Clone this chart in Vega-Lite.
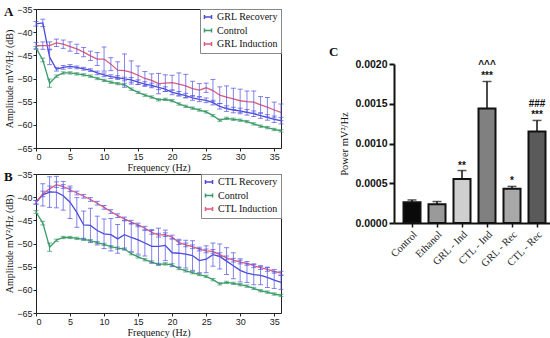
{
"$schema":"https://vega.github.io/schema/vega-lite/v6.json",
"padding":{"left":3,"top":4,"right":2,"bottom":2},
"spacing":44,
"config":{"font":"Liberation Sans","view":{"stroke":null},"axis":{"grid":false,"labelColor":"#222","titleColor":"#111"},"legend":{"orient":"top-right","offset":0,"strokeColor":"#888","fillColor":"#ffffff","padding":3,"labelFont":"Liberation Serif","labelFontSize":10,"labelColor":"#111","symbolType":"M-1,-0.6L-1,0.6M-1,0L1,0M1,-0.6L1,0.6","symbolSize":50,"symbolStrokeWidth":1.5,"rowPadding":1.5,"labelOffset":4}},
"datasets":{
"curves":[
{"p":"A","s":"GRL Recovery","f":0,"v":-38.2,"e":0.5},{"p":"A","s":"GRL Recovery","f":1,"v":-38.0,"e":0.8},{"p":"A","s":"GRL Recovery","f":2,"v":-45.4,"e":1.6},{"p":"A","s":"GRL Recovery","f":3,"v":-48.0,"e":0.4},{"p":"A","s":"GRL Recovery","f":4,"v":-47.6,"e":0.4},{"p":"A","s":"GRL Recovery","f":5,"v":-47.4,"e":0.4},{"p":"A","s":"GRL Recovery","f":6,"v":-47.6,"e":0.3},{"p":"A","s":"GRL Recovery","f":7,"v":-47.9,"e":0.3},{"p":"A","s":"GRL Recovery","f":8,"v":-48.2,"e":0.3},{"p":"A","s":"GRL Recovery","f":9,"v":-48.8,"e":0.4},{"p":"A","s":"GRL Recovery","f":10,"v":-49.2,"e":0.4},{"p":"A","s":"GRL Recovery","f":11,"v":-49.6,"e":0.4},{"p":"A","s":"GRL Recovery","f":12,"v":-49.8,"e":0.4},{"p":"A","s":"GRL Recovery","f":13,"v":-50.1,"e":0.4},{"p":"A","s":"GRL Recovery","f":14,"v":-50.3,"e":0.5},{"p":"A","s":"GRL Recovery","f":15,"v":-50.8,"e":0.5},{"p":"A","s":"GRL Recovery","f":16,"v":-51.2,"e":0.5},{"p":"A","s":"GRL Recovery","f":17,"v":-51.5,"e":0.5},{"p":"A","s":"GRL Recovery","f":18,"v":-51.9,"e":0.5},{"p":"A","s":"GRL Recovery","f":19,"v":-52.3,"e":0.5},{"p":"A","s":"GRL Recovery","f":20,"v":-53.0,"e":0.5},{"p":"A","s":"GRL Recovery","f":21,"v":-53.3,"e":0.5},{"p":"A","s":"GRL Recovery","f":22,"v":-53.7,"e":0.5},{"p":"A","s":"GRL Recovery","f":23,"v":-54.2,"e":0.5},{"p":"A","s":"GRL Recovery","f":24,"v":-54.5,"e":0.5},{"p":"A","s":"GRL Recovery","f":25,"v":-54.7,"e":0.5},{"p":"A","s":"GRL Recovery","f":26,"v":-55.2,"e":0.5},{"p":"A","s":"GRL Recovery","f":27,"v":-56.0,"e":0.6},{"p":"A","s":"GRL Recovery","f":28,"v":-56.5,"e":0.6},{"p":"A","s":"GRL Recovery","f":29,"v":-56.8,"e":0.6},{"p":"A","s":"GRL Recovery","f":30,"v":-57.0,"e":0.6},{"p":"A","s":"GRL Recovery","f":31,"v":-57.3,"e":0.6},{"p":"A","s":"GRL Recovery","f":32,"v":-57.6,"e":0.6},{"p":"A","s":"GRL Recovery","f":33,"v":-58.0,"e":0.6},{"p":"A","s":"GRL Recovery","f":34,"v":-58.4,"e":0.6},{"p":"A","s":"GRL Recovery","f":35,"v":-58.8,"e":0.7},{"p":"A","s":"GRL Recovery","f":36,"v":-59.1,"e":0.7},
{"p":"A","s":"GRL Induction","f":0,"v":-42.9,"e":0.7},{"p":"A","s":"GRL Induction","f":1,"v":-42.9,"e":0.8},{"p":"A","s":"GRL Induction","f":2,"v":-42.9,"e":0.8},{"p":"A","s":"GRL Induction","f":3,"v":-42.3,"e":0.8},{"p":"A","s":"GRL Induction","f":4,"v":-42.6,"e":0.9},{"p":"A","s":"GRL Induction","f":5,"v":-43.1,"e":1.0},{"p":"A","s":"GRL Induction","f":6,"v":-43.6,"e":1.0},{"p":"A","s":"GRL Induction","f":7,"v":-44.3,"e":1.0},{"p":"A","s":"GRL Induction","f":8,"v":-45.1,"e":1.0},{"p":"A","s":"GRL Induction","f":9,"v":-45.8,"e":1.4},{"p":"A","s":"GRL Induction","f":10,"v":-45.8,"e":2.6},{"p":"A","s":"GRL Induction","f":11,"v":-46.9,"e":1.4},{"p":"A","s":"GRL Induction","f":12,"v":-48.2,"e":1.8},{"p":"A","s":"GRL Induction","f":13,"v":-48.3,"e":3.6},{"p":"A","s":"GRL Induction","f":14,"v":-48.7,"e":2.5},{"p":"A","s":"GRL Induction","f":15,"v":-49.3,"e":2.0},{"p":"A","s":"GRL Induction","f":16,"v":-50.0,"e":1.5},{"p":"A","s":"GRL Induction","f":17,"v":-50.4,"e":1.4},{"p":"A","s":"GRL Induction","f":18,"v":-51.1,"e":2.2},{"p":"A","s":"GRL Induction","f":19,"v":-51.0,"e":1.8},{"p":"A","s":"GRL Induction","f":20,"v":-50.9,"e":1.6},{"p":"A","s":"GRL Induction","f":21,"v":-51.2,"e":2.4},{"p":"A","s":"GRL Induction","f":22,"v":-51.6,"e":2.5},{"p":"A","s":"GRL Induction","f":23,"v":-52.2,"e":1.6},{"p":"A","s":"GRL Induction","f":24,"v":-52.5,"e":1.4},{"p":"A","s":"GRL Induction","f":25,"v":-52.0,"e":1.0},{"p":"A","s":"GRL Induction","f":26,"v":-52.6,"e":2.4},{"p":"A","s":"GRL Induction","f":27,"v":-53.6,"e":1.8},{"p":"A","s":"GRL Induction","f":28,"v":-54.0,"e":2.4},{"p":"A","s":"GRL Induction","f":29,"v":-54.4,"e":2.3},{"p":"A","s":"GRL Induction","f":30,"v":-54.8,"e":2.5},{"p":"A","s":"GRL Induction","f":31,"v":-55.0,"e":2.3},{"p":"A","s":"GRL Induction","f":32,"v":-55.1,"e":2.4},{"p":"A","s":"GRL Induction","f":33,"v":-55.7,"e":1.8},{"p":"A","s":"GRL Induction","f":34,"v":-56.2,"e":2.1},{"p":"A","s":"GRL Induction","f":35,"v":-56.8,"e":1.7},{"p":"A","s":"GRL Induction","f":36,"v":-57.3,"e":1.8},
{"p":"A","s":"Control","f":0,"v":-43.4,"e":0.3},{"p":"A","s":"Control","f":1,"v":-46.0,"e":0.4},{"p":"A","s":"Control","f":2,"v":-51.0,"e":0.9},{"p":"A","s":"Control","f":3,"v":-49.5,"e":0.25},{"p":"A","s":"Control","f":4,"v":-48.8,"e":0.25},{"p":"A","s":"Control","f":5,"v":-48.8,"e":0.25},{"p":"A","s":"Control","f":6,"v":-49.0,"e":0.25},{"p":"A","s":"Control","f":7,"v":-49.2,"e":0.25},{"p":"A","s":"Control","f":8,"v":-49.5,"e":0.25},{"p":"A","s":"Control","f":9,"v":-50.0,"e":0.25},{"p":"A","s":"Control","f":10,"v":-50.4,"e":0.25},{"p":"A","s":"Control","f":11,"v":-50.8,"e":0.25},{"p":"A","s":"Control","f":12,"v":-51.1,"e":0.25},{"p":"A","s":"Control","f":13,"v":-51.3,"e":0.25},{"p":"A","s":"Control","f":14,"v":-52.3,"e":0.25},{"p":"A","s":"Control","f":15,"v":-53.0,"e":0.25},{"p":"A","s":"Control","f":16,"v":-53.6,"e":0.25},{"p":"A","s":"Control","f":17,"v":-54.0,"e":0.25},{"p":"A","s":"Control","f":18,"v":-54.6,"e":0.25},{"p":"A","s":"Control","f":19,"v":-54.5,"e":0.25},{"p":"A","s":"Control","f":20,"v":-54.8,"e":0.25},{"p":"A","s":"Control","f":21,"v":-55.5,"e":0.25},{"p":"A","s":"Control","f":22,"v":-56.0,"e":0.25},{"p":"A","s":"Control","f":23,"v":-56.4,"e":0.25},{"p":"A","s":"Control","f":24,"v":-56.8,"e":0.25},{"p":"A","s":"Control","f":25,"v":-57.2,"e":0.25},{"p":"A","s":"Control","f":26,"v":-58.0,"e":0.25},{"p":"A","s":"Control","f":27,"v":-59.0,"e":0.25},{"p":"A","s":"Control","f":28,"v":-58.6,"e":0.25},{"p":"A","s":"Control","f":29,"v":-58.8,"e":0.25},{"p":"A","s":"Control","f":30,"v":-59.0,"e":0.25},{"p":"A","s":"Control","f":31,"v":-59.3,"e":0.25},{"p":"A","s":"Control","f":32,"v":-59.8,"e":0.25},{"p":"A","s":"Control","f":33,"v":-60.3,"e":0.25},{"p":"A","s":"Control","f":34,"v":-60.6,"e":0.25},{"p":"A","s":"Control","f":35,"v":-61.0,"e":0.25},{"p":"A","s":"Control","f":36,"v":-61.3,"e":0.25},
{"p":"B","s":"CTL Recovery","f":0,"v":-41.1,"e":0.4},{"p":"B","s":"CTL Recovery","f":1,"v":-39.5,"e":2.4},{"p":"B","s":"CTL Recovery","f":2,"v":-38.9,"e":3.3},{"p":"B","s":"CTL Recovery","f":3,"v":-38.9,"e":3.4},{"p":"B","s":"CTL Recovery","f":4,"v":-39.7,"e":3.1},{"p":"B","s":"CTL Recovery","f":5,"v":-41.1,"e":3.5},{"p":"B","s":"CTL Recovery","f":6,"v":-43.3,"e":3.2},{"p":"B","s":"CTL Recovery","f":7,"v":-46.0,"e":3.0},{"p":"B","s":"CTL Recovery","f":8,"v":-46.1,"e":3.7},{"p":"B","s":"CTL Recovery","f":9,"v":-47.2,"e":3.1},{"p":"B","s":"CTL Recovery","f":10,"v":-47.9,"e":3.2},{"p":"B","s":"CTL Recovery","f":11,"v":-48.1,"e":3.5},{"p":"B","s":"CTL Recovery","f":12,"v":-49.0,"e":3.1},{"p":"B","s":"CTL Recovery","f":13,"v":-48.1,"e":3.1},{"p":"B","s":"CTL Recovery","f":14,"v":-48.7,"e":3.0},{"p":"B","s":"CTL Recovery","f":15,"v":-49.2,"e":3.1},{"p":"B","s":"CTL Recovery","f":16,"v":-49.9,"e":2.8},{"p":"B","s":"CTL Recovery","f":17,"v":-50.6,"e":3.6},{"p":"B","s":"CTL Recovery","f":18,"v":-50.6,"e":3.9},{"p":"B","s":"CTL Recovery","f":19,"v":-50.4,"e":3.3},{"p":"B","s":"CTL Recovery","f":20,"v":-52.0,"e":3.0},{"p":"B","s":"CTL Recovery","f":21,"v":-52.1,"e":3.0},{"p":"B","s":"CTL Recovery","f":22,"v":-52.3,"e":3.0},{"p":"B","s":"CTL Recovery","f":23,"v":-52.6,"e":3.2},{"p":"B","s":"CTL Recovery","f":24,"v":-53.7,"e":2.6},{"p":"B","s":"CTL Recovery","f":25,"v":-53.4,"e":2.9},{"p":"B","s":"CTL Recovery","f":26,"v":-52.4,"e":2.5},{"p":"B","s":"CTL Recovery","f":27,"v":-52.8,"e":2.7},{"p":"B","s":"CTL Recovery","f":28,"v":-53.8,"e":2.9},{"p":"B","s":"CTL Recovery","f":29,"v":-54.8,"e":2.8},{"p":"B","s":"CTL Recovery","f":30,"v":-55.8,"e":2.5},{"p":"B","s":"CTL Recovery","f":31,"v":-56.4,"e":2.0},{"p":"B","s":"CTL Recovery","f":32,"v":-56.7,"e":2.2},{"p":"B","s":"CTL Recovery","f":33,"v":-56.9,"e":2.0},{"p":"B","s":"CTL Recovery","f":34,"v":-57.3,"e":2.2},{"p":"B","s":"CTL Recovery","f":35,"v":-57.9,"e":1.8},{"p":"B","s":"CTL Recovery","f":36,"v":-58.4,"e":1.5},
{"p":"B","s":"CTL Induction","f":0,"v":-41.1,"e":0.4},{"p":"B","s":"CTL Induction","f":1,"v":-39.3,"e":0.6},{"p":"B","s":"CTL Induction","f":2,"v":-38.2,"e":0.6},{"p":"B","s":"CTL Induction","f":3,"v":-37.3,"e":0.6},{"p":"B","s":"CTL Induction","f":4,"v":-37.7,"e":0.4},{"p":"B","s":"CTL Induction","f":5,"v":-38.4,"e":0.4},{"p":"B","s":"CTL Induction","f":6,"v":-39.1,"e":0.4},{"p":"B","s":"CTL Induction","f":7,"v":-39.8,"e":0.4},{"p":"B","s":"CTL Induction","f":8,"v":-40.5,"e":0.4},{"p":"B","s":"CTL Induction","f":9,"v":-41.3,"e":0.4},{"p":"B","s":"CTL Induction","f":10,"v":-42.2,"e":0.4},{"p":"B","s":"CTL Induction","f":11,"v":-43.1,"e":0.4},{"p":"B","s":"CTL Induction","f":12,"v":-44.0,"e":0.4},{"p":"B","s":"CTL Induction","f":13,"v":-44.7,"e":0.4},{"p":"B","s":"CTL Induction","f":14,"v":-45.4,"e":0.4},{"p":"B","s":"CTL Induction","f":15,"v":-46.0,"e":0.4},{"p":"B","s":"CTL Induction","f":16,"v":-46.7,"e":0.4},{"p":"B","s":"CTL Induction","f":17,"v":-47.6,"e":0.4},{"p":"B","s":"CTL Induction","f":18,"v":-48.2,"e":0.4},{"p":"B","s":"CTL Induction","f":19,"v":-48.1,"e":0.4},{"p":"B","s":"CTL Induction","f":20,"v":-48.6,"e":0.4},{"p":"B","s":"CTL Induction","f":21,"v":-49.8,"e":0.4},{"p":"B","s":"CTL Induction","f":22,"v":-50.3,"e":0.4},{"p":"B","s":"CTL Induction","f":23,"v":-50.7,"e":0.4},{"p":"B","s":"CTL Induction","f":24,"v":-51.2,"e":0.4},{"p":"B","s":"CTL Induction","f":25,"v":-51.6,"e":0.4},{"p":"B","s":"CTL Induction","f":26,"v":-51.7,"e":0.4},{"p":"B","s":"CTL Induction","f":27,"v":-52.4,"e":0.4},{"p":"B","s":"CTL Induction","f":28,"v":-53.1,"e":0.4},{"p":"B","s":"CTL Induction","f":29,"v":-53.6,"e":0.4},{"p":"B","s":"CTL Induction","f":30,"v":-54.0,"e":0.4},{"p":"B","s":"CTL Induction","f":31,"v":-54.3,"e":0.4},{"p":"B","s":"CTL Induction","f":32,"v":-54.8,"e":0.4},{"p":"B","s":"CTL Induction","f":33,"v":-55.2,"e":0.4},{"p":"B","s":"CTL Induction","f":34,"v":-55.6,"e":0.4},{"p":"B","s":"CTL Induction","f":35,"v":-56.0,"e":0.4},{"p":"B","s":"CTL Induction","f":36,"v":-56.4,"e":0.4},
{"p":"B","s":"Control","f":0,"v":-43.2,"e":0.3},{"p":"B","s":"Control","f":1,"v":-45.6,"e":0.4},{"p":"B","s":"Control","f":2,"v":-50.8,"e":0.9},{"p":"B","s":"Control","f":3,"v":-49.3,"e":0.25},{"p":"B","s":"Control","f":4,"v":-48.7,"e":0.25},{"p":"B","s":"Control","f":5,"v":-48.7,"e":0.25},{"p":"B","s":"Control","f":6,"v":-48.9,"e":0.25},{"p":"B","s":"Control","f":7,"v":-49.1,"e":0.25},{"p":"B","s":"Control","f":8,"v":-49.4,"e":0.25},{"p":"B","s":"Control","f":9,"v":-49.8,"e":0.25},{"p":"B","s":"Control","f":10,"v":-50.2,"e":0.25},{"p":"B","s":"Control","f":11,"v":-50.7,"e":0.25},{"p":"B","s":"Control","f":12,"v":-51.0,"e":0.25},{"p":"B","s":"Control","f":13,"v":-51.2,"e":0.25},{"p":"B","s":"Control","f":14,"v":-52.2,"e":0.25},{"p":"B","s":"Control","f":15,"v":-52.9,"e":0.25},{"p":"B","s":"Control","f":16,"v":-53.5,"e":0.25},{"p":"B","s":"Control","f":17,"v":-54.0,"e":0.25},{"p":"B","s":"Control","f":18,"v":-54.5,"e":0.25},{"p":"B","s":"Control","f":19,"v":-54.4,"e":0.25},{"p":"B","s":"Control","f":20,"v":-54.6,"e":0.25},{"p":"B","s":"Control","f":21,"v":-55.4,"e":0.25},{"p":"B","s":"Control","f":22,"v":-55.9,"e":0.25},{"p":"B","s":"Control","f":23,"v":-56.3,"e":0.25},{"p":"B","s":"Control","f":24,"v":-56.7,"e":0.25},{"p":"B","s":"Control","f":25,"v":-57.1,"e":0.25},{"p":"B","s":"Control","f":26,"v":-57.8,"e":0.25},{"p":"B","s":"Control","f":27,"v":-58.7,"e":0.25},{"p":"B","s":"Control","f":28,"v":-58.4,"e":0.25},{"p":"B","s":"Control","f":29,"v":-58.6,"e":0.25},{"p":"B","s":"Control","f":30,"v":-58.9,"e":0.25},{"p":"B","s":"Control","f":31,"v":-59.2,"e":0.25},{"p":"B","s":"Control","f":32,"v":-59.7,"e":0.25},{"p":"B","s":"Control","f":33,"v":-60.2,"e":0.25},{"p":"B","s":"Control","f":34,"v":-60.5,"e":0.25},{"p":"B","s":"Control","f":35,"v":-60.9,"e":0.25},{"p":"B","s":"Control","f":36,"v":-61.2,"e":0.25}
],
"bars":[
{"g":"Control","v":0.00026,"hi":0.00029,"sig":"","sig2":""},
{"g":"Ethanol","v":0.000235,"hi":0.00027,"sig":"","sig2":""},
{"g":"GRL - Ind","v":0.000555,"hi":0.00066,"sig":"**","sig2":""},
{"g":"CTL - Ind","v":0.00144,"hi":0.00178,"sig":"***","sig2":"^^^"},
{"g":"GRL - Rec","v":0.00043,"hi":0.00046,"sig":"*","sig2":""},
{"g":"CTL - Rec","v":0.00115,"hi":0.00129,"sig":"***","sig2":"###"}
]
},
"resolve":{"scale":{"x":"independent","y":"independent","color":"independent"},"legend":{"color":"independent"}},
"hconcat":[
{"vconcat":[
{"width":245,"height":139,"view":{"stroke":"#222","strokeWidth":1},
 "title":{"text":"A","anchor":"start","frame":"group","dx":-32,"dy":14,"offset":0,"font":"Liberation Serif","fontSize":13,"fontWeight":"bold","color":"#111"},
 "data":{"name":"curves"},
 "transform":[{"filter":"datum.p=='A'"}],
 "encoding":{
  "x":{"field":"f","type":"quantitative","scale":{"domain":[0,36],"nice":false},"axis":{"values":[0,5,10,15,20,25,30,35],"title":"Frequency (Hz)","titleFont":"Liberation Serif","titleFontSize":10,"titleFontWeight":"normal","titlePadding":1,"labelFontSize":9,"labelPadding":1,"tickSize":3,"tickColor":"#222","domain":false}},
  "y":{"field":"v","type":"quantitative","scale":{"domain":[-65,-35],"nice":false,"zero":false},"axis":{"values":[-65,-60,-55,-50,-45,-40,-35],"title":"Amplitude mV²/Hz (dB)","titleFont":"Liberation Serif","titleFontSize":10,"titleFontWeight":"normal","titlePadding":2,"labelFontSize":9,"labelPadding":1,"tickSize":3,"tickColor":"#222","domain":false}}
 },
 "layer":[
  {"mark":{"type":"line","strokeWidth":1.3},"encoding":{"color":{"field":"s","type":"nominal","scale":{"domain":["GRL Recovery","Control","GRL Induction"],"range":["#4b4bd8","#3d9a6a","#e05a78"]},"legend":{"title":null,"labelFont":"Liberation Serif","labelFontSize":10}}}},
  {"transform":[{"filter":"datum.s=='Control'"}],"mark":{"type":"errorbar","color":"#3d9a6a","ticks":true},"encoding":{"yError":{"field":"e"}}},
  {"transform":[{"filter":"datum.s!='Control'"}],"mark":{"type":"errorbar","color":"#5a5ae6","opacity":0.75,"ticks":true},"encoding":{"yError":{"field":"e"},"detail":{"field":"s"}}}
 ]},
{"width":245,"height":139,"view":{"stroke":"#222","strokeWidth":1},
 "title":{"text":"B","anchor":"start","frame":"group","dx":-32,"dy":14,"offset":0,"font":"Liberation Serif","fontSize":13,"fontWeight":"bold","color":"#111"},
 "data":{"name":"curves"},
 "transform":[{"filter":"datum.p=='B'"}],
 "encoding":{
  "x":{"field":"f","type":"quantitative","scale":{"domain":[0,36],"nice":false},"axis":{"values":[0,5,10,15,20,25,30,35],"title":"Frequency (Hz)","titleFont":"Liberation Serif","titleFontSize":10,"titleFontWeight":"normal","titlePadding":1,"labelFontSize":9,"labelPadding":1,"tickSize":3,"tickColor":"#222","domain":false}},
  "y":{"field":"v","type":"quantitative","scale":{"domain":[-65,-35],"nice":false,"zero":false},"axis":{"values":[-65,-60,-55,-50,-45,-40,-35],"title":"Amplitude mV²/Hz (dB)","titleFont":"Liberation Serif","titleFontSize":10,"titleFontWeight":"normal","titlePadding":2,"labelFontSize":9,"labelPadding":1,"tickSize":3,"tickColor":"#222","domain":false}}
 },
 "layer":[
  {"mark":{"type":"line","strokeWidth":1.3},"encoding":{"color":{"field":"s","type":"nominal","scale":{"domain":["CTL Recovery","Control","CTL Induction"],"range":["#4b4bd8","#3d9a6a","#e05a78"]},"legend":{"title":null,"labelFont":"Liberation Serif","labelFontSize":10}}}},
  {"transform":[{"filter":"datum.s=='Control'"}],"mark":{"type":"errorbar","color":"#3d9a6a","ticks":true},"encoding":{"yError":{"field":"e"}}},
  {"transform":[{"filter":"datum.s!='Control'"}],"mark":{"type":"errorbar","color":"#5a5ae6","opacity":0.75,"ticks":true},"encoding":{"yError":{"field":"e"},"detail":{"field":"s"}}}
 ]}
],"spacing":26,"bounds":"flush","resolve":{"scale":{"color":"independent"},"legend":{"color":"independent"}}},
{"vconcat":[
{"width":161,"height":37,"data":{"values":[]},"mark":"point"},
{"width":161,"height":159,
 "title":{"text":"C","anchor":"start","frame":"group","dx":-65,"dy":0,"offset":0,"font":"Liberation Serif","fontSize":13,"fontWeight":"bold","color":"#111"},
 "data":{"name":"bars"},
 "encoding":{
  "x":{"field":"g","type":"nominal","sort":null,"scale":{"paddingInner":0.32,"paddingOuter":0.38},"axis":{"title":null,"labelAngle":-45,"labelFont":"Liberation Serif","labelFontSize":10.5,"labelColor":"#222","domainWidth":2,"domainColor":"#111","tickWidth":1.5,"tickColor":"#111","tickSize":4,"labelPadding":2}},
  "y":{"field":"v","type":"quantitative","scale":{"domain":[0,0.002],"nice":false},"axis":{"values":[0,0.0005,0.001,0.0015,0.002],"format":".4f","title":"Power mV²/Hz","titleFont":"Liberation Serif","titleFontSize":10.5,"titleFontWeight":"normal","titlePadding":5,"labelFont":"Liberation Sans","labelFontSize":10.5,"labelFontWeight":"bold","labelColor":"#111","domainWidth":2,"domainColor":"#111","tickWidth":2,"tickColor":"#111","tickSize":5,"labelPadding":2}}
 },
 "layer":[
  {"mark":{"type":"rule","color":"#111","strokeWidth":1.5},"encoding":{"y2":{"field":"hi"}}},
  {"mark":{"type":"tick","color":"#111","thickness":1.5,"size":9},"encoding":{"y":{"field":"hi","type":"quantitative"}}},
  {"mark":{"type":"bar","stroke":"#111","strokeWidth":2},"encoding":{"color":{"field":"g","type":"nominal","sort":null,"scale":{"domain":["Control","Ethanol","GRL - Ind","CTL - Ind","GRL - Rec","CTL - Rec"],"range":["#0a0a0a","#9a9a9a","#cfcfcf","#808080","#a8a8a8","#5a5a5a"]},"legend":null}}},
  {"mark":{"type":"text","baseline":"bottom","dy":0,"font":"Liberation Sans","fontWeight":"bold","fontSize":10,"color":"#111"},"encoding":{"y":{"field":"hi","type":"quantitative"},"text":{"field":"sig"}}},
  {"mark":{"type":"text","baseline":"alphabetic","dy":-13,"font":"Liberation Sans","fontWeight":"bold","fontSize":10,"color":"#111"},"encoding":{"y":{"field":"hi","type":"quantitative"},"text":{"field":"sig2"}}}
 ]}
],"spacing":0}
]
}
